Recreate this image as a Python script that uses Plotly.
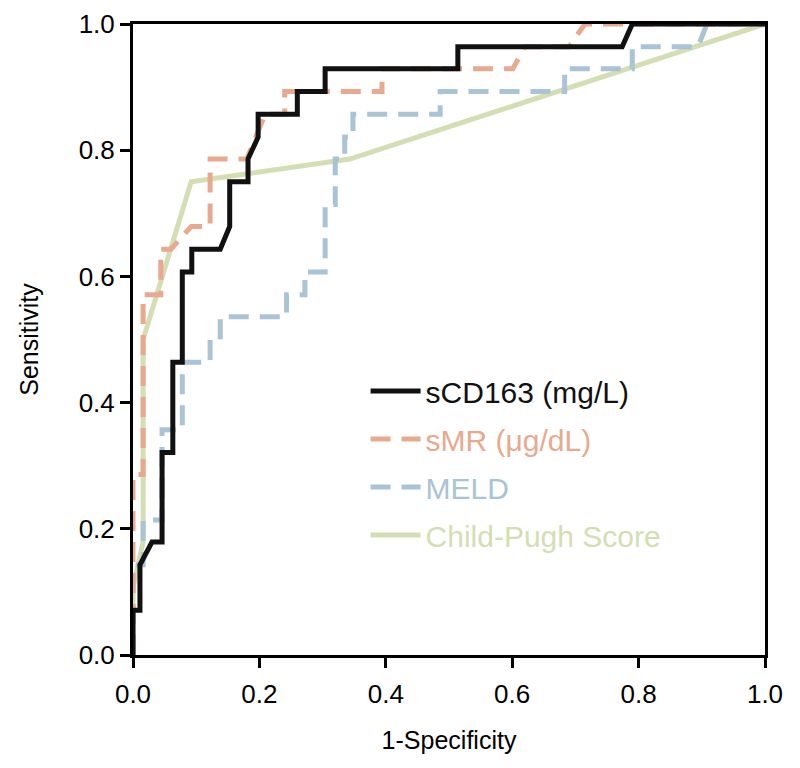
import plotly.graph_objects as go

# ROC curves (1-specificity, sensitivity)
cd163_fpr = [0, 0, 0.011, 0.011, 0.03, 0.046, 0.046, 0.063, 0.063, 0.078, 0.078, 0.093, 0.093,
             0.138, 0.153, 0.153, 0.182, 0.182, 0.198, 0.198, 0.26, 0.26, 0.304, 0.304,
             0.514, 0.514, 0.774, 0.79, 1.0]
cd163_tpr = [0, 0.071, 0.071, 0.143, 0.179, 0.179, 0.321, 0.321, 0.464, 0.464, 0.607, 0.607, 0.643,
             0.643, 0.679, 0.75, 0.75, 0.786, 0.821, 0.857, 0.857, 0.893, 0.893, 0.929,
             0.929, 0.964, 0.964, 1.0, 1.0]

smr_fpr = [0, 0, 0.016, 0.016, 0.044, 0.044, 0.06, 0.092, 0.122, 0.122, 0.18, 0.209, 0.24, 0.24,
           0.394, 0.394, 0.601, 0.62, 0.69, 0.715, 1.0]
smr_tpr = [0, 0.286, 0.286, 0.571, 0.571, 0.643, 0.643, 0.679, 0.679, 0.786, 0.786, 0.857, 0.857, 0.893,
           0.893, 0.929, 0.929, 0.964, 0.964, 1.0, 1.0]

meld_fpr = [0, 0, 0.016, 0.016, 0.046, 0.046, 0.078, 0.078, 0.122, 0.122, 0.138, 0.138, 0.243, 0.243,
            0.272, 0.272, 0.304, 0.304, 0.32, 0.32, 0.335, 0.335, 0.348, 0.348, 0.486, 0.486,
            0.683, 0.683, 0.79, 0.79, 0.894, 0.908, 1.0]
meld_tpr = [0, 0.143, 0.143, 0.214, 0.214, 0.357, 0.357, 0.464, 0.464, 0.5, 0.5, 0.536, 0.536, 0.571,
            0.571, 0.607, 0.607, 0.714, 0.714, 0.786, 0.786, 0.821, 0.821, 0.857, 0.857, 0.893,
            0.893, 0.929, 0.929, 0.964, 0.964, 1.0, 1.0]

cp_fpr = [0, 0, 0.016, 0.016, 0.092, 0.343, 1.0]
cp_tpr = [0, 0.107, 0.179, 0.5, 0.75, 0.786, 1.0]

ticks = [0.0, 0.2, 0.4, 0.6, 0.8, 1.0]
tick_text = ["0.0", "0.2", "0.4", "0.6", "0.8", "1.0"]

series = [
    ("sCD163 (mg/L)", cd163_fpr, cd163_tpr, "#111111", "solid"),
    ("sMR (μg/dL)", smr_fpr, smr_tpr, "#E8A98E", "20px,11px"),
    ("MELD", meld_fpr, meld_tpr, "#A9C3D7", "20px,11px"),
    ("Child-Pugh Score", cp_fpr, cp_tpr, "#D3DEB2", "solid"),
]

fig = go.Figure()
# black curve drawn last so it sits on top; legendrank keeps the order
for i, (name, x, y, color, dash) in reversed(list(enumerate(series))):
    fig.add_trace(go.Scatter(
        x=x, y=y, mode="lines", name=f'<span style="color:{color}">{name}</span>',
        line=dict(color=color, width=5, dash=dash),
        legendgroup=str(i), legendrank=i + 1,
    ))

axis_common = dict(
    range=[0, 1], tickvals=ticks, ticktext=tick_text,
    showline=True, linecolor="black", linewidth=3, mirror=True,
    ticks="outside", ticklen=10, tickwidth=3, tickcolor="black",
    showgrid=False, zeroline=False, automargin=False,
    tickfont=dict(size=26, color="black"),
    title_font=dict(size=25, color="black"),
)

# page body adds an 8px margin, so the figure is 8px smaller each way
fig.update_layout(
    width=792, height=760,
    margin=dict(l=125, r=35, t=16, b=113),
    plot_bgcolor="white", paper_bgcolor="white",
    font=dict(family="Liberation Sans, Arial, sans-serif", color="black"),
    xaxis=dict(axis_common, ticklabelstandoff=4,
               title=dict(text="1-Specificity", standoff=24)),
    yaxis=dict(axis_common, title=dict(text="Sensitivity", standoff=33)),
    legend=dict(x=0.368, y=0.4595, xanchor="left", yanchor="top",
                font=dict(size=30), bgcolor="rgba(0,0,0,0)",
                tracegroupgap=6, itemwidth=50),
    showlegend=True,
)

fig.write_html("out.html")
